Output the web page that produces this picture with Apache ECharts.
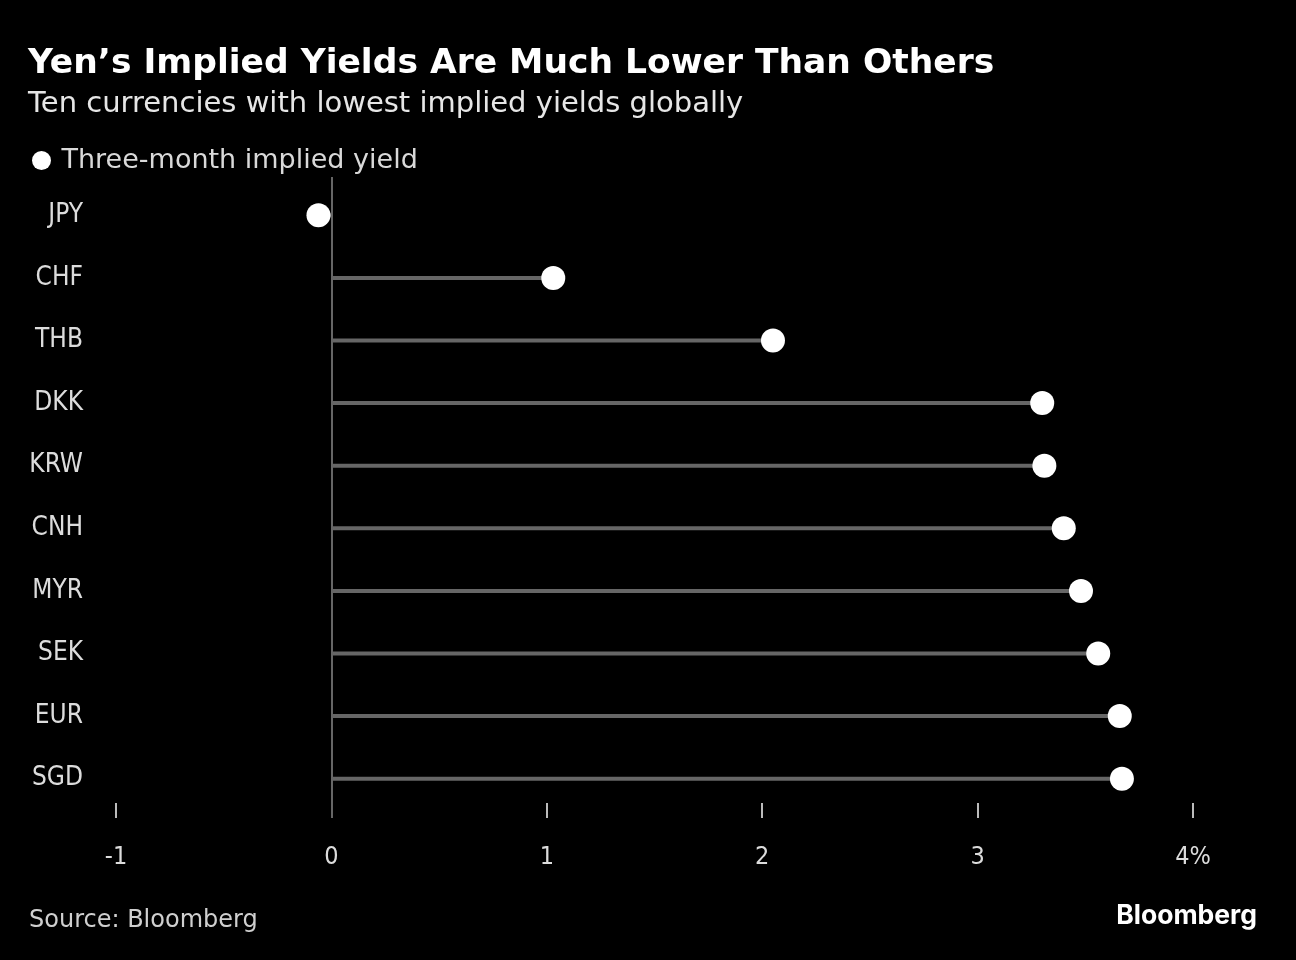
<!DOCTYPE html>
<html>
<head>
<meta charset="utf-8">
<script src="https://cdn.jsdelivr.net/npm/echarts@6/dist/echarts.min.js"></script>
<style>
html,body{margin:0;padding:0;background:#000;}
#chart{width:1296px;height:960px;}
</style>
</head>
<body>
<div id="chart"></div>
<script>
// Data
const categories = ['JPY','CHF','THB','DKK','KRW','CNH','MYR','SEK','EUR','SGD'];
const yields = [-0.06, 1.03, 2.05, 3.30, 3.31, 3.40, 3.48, 3.56, 3.66, 3.67];
const xTicks = [-1, 0, 1, 2, 3, 4];
const seriesName = 'Three-month implied yield';

const COND = "'DejaVu Sans Condensed', 'DejaVu Sans', sans-serif";
const WIDE = "'DejaVu Sans', sans-serif";
const chart = echarts.init(document.getElementById('chart'));

chart.setOption({
  backgroundColor: '#000',
  animation: false,
  title: [
    {text: 'Yen’s Implied Yields Are Much Lower Than Others', left: 23, top: 42,
     textStyle: {color: '#fff', fontSize: 34.5, fontWeight: 'bold', fontFamily: WIDE}},
    {text: 'Ten currencies with lowest implied yields globally', left: 23, top: 85,
     textStyle: {color: '#e6e6e6', fontSize: 29, fontWeight: 'normal', fontFamily: WIDE}},
    {text: 'Source: Bloomberg', left: 24, top: 904,
     textStyle: {color: '#cfcfcf', fontSize: 24, fontWeight: 'normal', fontFamily: WIDE}},
    {text: 'Bloomberg', right: 34, top: 898,
     textStyle: {color: '#fff', fontSize: 26.5, fontWeight: 'bold', fontFamily: "Inter, 'Open Sans', sans-serif"}}
  ],
  legend: {
    data: [seriesName], left: 27, top: 142, icon: 'circle',
    itemWidth: 30, itemHeight: 19, itemGap: 0,
    itemStyle: {opacity: 1},
    textStyle: {color: '#d9d9d9', fontSize: 27, fontFamily: WIDE, padding: [0,0,0,0]}
  },
  grid: [
    {left: 116, right: 103, top: 177, bottom: 142},
    {left: 116, right: 103, top: 184, bottom: 150}
  ],
  xAxis: [
    {type: 'value', gridIndex: 0, min: xTicks[0], max: xTicks[xTicks.length-1], interval: 1,
     axisLine: {show: false},
     axisTick: {show: true, inside: true, length: 15, lineStyle: {color: '#bbb', width: 2}},
     splitLine: {show: false},
     axisLabel: {color: '#dcdcdc', fontSize: 25, fontFamily: COND, margin: 27,
       formatter: v => v === xTicks[xTicks.length-1] ? v + '%' : String(v)}},
    {type: 'value', gridIndex: 1, min: xTicks[0], max: xTicks[xTicks.length-1], interval: 1,
     show: false, splitLine: {show: false}}
  ],
  yAxis: [
    {type: 'value', gridIndex: 0, show: false, min: 0, max: 1, splitLine: {show: false}},
    {type: 'category', gridIndex: 1, data: categories, inverse: true,
     axisLine: {show: false}, axisTick: {show: false},
     axisLabel: {color: '#dcdcdc', fontSize: 26, fontFamily: COND, margin: 33, align: 'right'}}
  ],
  series: [
    {type: 'scatter', xAxisIndex: 0, yAxisIndex: 0, data: [], silent: true,
     markLine: {symbol: 'none', silent: true, label: {show: false},
       lineStyle: {color: '#666', width: 2, type: 'solid'},
       data: [{xAxis: 0}]}},
    {type: 'bar', xAxisIndex: 1, yAxisIndex: 1, data: yields, barWidth: 4,
     itemStyle: {color: '#666'}, silent: true, z: 2},
    {type: 'scatter', name: seriesName, xAxisIndex: 1, yAxisIndex: 1, data: yields,
     symbolSize: 24, itemStyle: {color: '#fff', opacity: 1}, z: 3}
  ]
});
</script>
</body>
</html>
